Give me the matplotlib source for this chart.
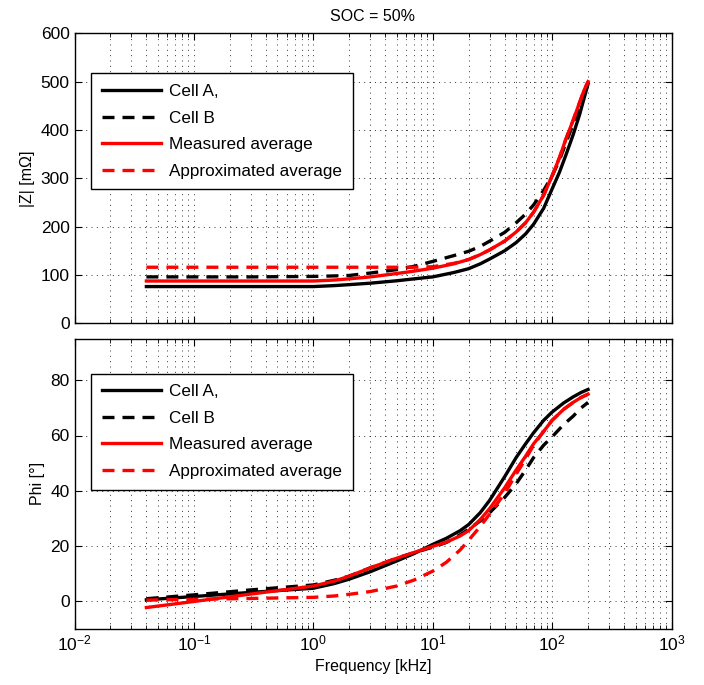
import numpy as np
import matplotlib
matplotlib.use('Agg')
import matplotlib.pyplot as plt

plt.rcParams['font.family'] = ['Liberation Sans', 'DejaVu Sans']
plt.rcParams['mathtext.default'] = 'regular'

# Frequency points [kHz]
freq_z = [0.04, 0.1, 0.3, 1, 1.5, 2, 3, 5, 7, 10, 15, 20, 25, 30, 40, 50, 60, 70, 85,
          100, 115, 130, 150, 170, 185, 200]
freq_phi = [0.04, 0.1, 0.3, 1, 1.5, 2, 3, 5, 7, 10, 13, 17, 20, 25, 30, 40, 50, 60, 70,
            85, 100, 125, 150, 175, 200]

# |Z| [mOhm]
z_cell_a = [76, 76, 76, 76, 78, 80, 83, 88, 92, 96, 105, 113, 123, 133, 150, 167, 185, 205,
            238, 278, 312, 347, 390, 432, 465, 495]
z_cell_b = [96, 96, 96, 97, 98, 99, 104, 111, 118, 128, 140, 149, 159, 170, 188, 208, 226,
            245, 275, 305, 337, 372, 412, 448, 475, 497]
z_meas = [87.5, 87.5, 87.5, 87.5, 89.5, 92, 96, 103, 108, 114, 123, 132, 142, 152, 170, 189,
          208, 230, 265, 305, 342, 380, 420, 457, 482, 500]
z_approx = [116, 116, 116, 116, 116, 116, 116, 116, 116, 117, 124, 132, 142, 152, 170, 189,
            208, 230, 265, 305, 342, 380, 420, 457, 482, 500]

# Phase [deg]
phi_cell_a = [0.4, 1.6, 3.1, 4.6, 6.3, 7.9, 10.6, 14.5, 17.2, 20.5, 22.7, 25.5, 27.7, 32,
              36.5, 45, 52, 57, 61, 65.5, 68.5, 71.8, 74, 75.6, 76.7]
phi_cell_b = [0.8, 2.2, 4, 5.8, 7.5, 9, 12, 15.5, 17.5, 19.5, 21.2, 24, 26, 29, 32, 37.5,
              42.5, 47.5, 52, 56.5, 59.5, 64, 67, 70, 72]
phi_meas = [-2.4, -0.2, 2.5, 5.4, 7.2, 9, 12, 15.5, 17.6, 19.8, 21.3, 23.6, 25.5, 29.5,
            33.5, 41, 47.5, 52.5, 57, 61.5, 65.5, 69.5, 72, 73.8, 75]
phi_approx = [0.3, 0.6, 0.9, 1.3, 1.8, 2.4, 3.4, 5.4, 7.6, 10.8, 14, 18.5, 22, 27, 31.5, 39,
              46, 51.5, 56.5, 61.5, 65.5, 69.5, 72, 73.8, 75]

labels = ['Cell A,', 'Cell B', 'Measured average', 'Approximated average']

fig = plt.figure(figsize=(7.04, 6.85), dpi=100)
W, H = 704.0, 685.0
left, right = 74.5, 671.5
ax1 = fig.add_axes([left / W, 1 - 323.3 / H, (right - left) / W, 290 / H])
ax2 = fig.add_axes([left / W, 1 - 628.5 / H, (right - left) / W, 289.5 / H])

dash = (0, (3.6, 2.4))
grid_style = dict(ls=(0, (1, 4.5)), color='0.2', lw=0.7)


def draw(ax, f, a, b, m, ap):
    ax.semilogx(f, a, color='k', lw=2.4, ls='-', label=labels[0])
    ax.semilogx(f, b, color='k', lw=2.4, ls=dash, label=labels[1])
    ax.semilogx(f, m, color='red', lw=2.4, ls='-', label=labels[2])
    ax.semilogx(f, ap, color='red', lw=2.4, ls=dash, label=labels[3])
    ax.set_xlim(1e-2, 1e3)
    ax.grid(True, which='major', axis='both', **grid_style)
    ax.grid(True, which='minor', axis='x', **grid_style)
    ax.tick_params(which='both', direction='in', top=True, right=True, labelsize=12.5)
    ax.tick_params(which='major', length=5)
    ax.tick_params(which='minor', length=3)
    for s in ax.spines.values():
        s.set_linewidth(1.0)


draw(ax1, freq_z, z_cell_a, z_cell_b, z_meas, z_approx)
ax1.set_ylim(0, 600)
ax1.set_yticks([0, 100, 200, 300, 400, 500, 600])
ax1.tick_params(labelbottom=False)
ax1.set_ylabel('|Z| [mΩ]', fontsize=11.5)
ax1.set_title('SOC = 50%', fontsize=11.5, pad=9)

draw(ax2, freq_phi, phi_cell_a, phi_cell_b, phi_meas, phi_approx)
ax2.set_ylim(-10, 95)
ax2.set_yticks([0, 20, 40, 60, 80])
ax2.set_ylabel('Phi [°]', fontsize=11.5)
ax2.set_xlabel('Frequency [kHz]', fontsize=11.5)

for ax, top in [(ax1, 73.3), (ax2, 373.5)]:
    leg = ax.legend(loc='upper left', bbox_to_anchor=(91 / W, 1 - top / H),
                    bbox_transform=fig.transFigure, borderaxespad=0, fontsize=12.3,
                    handlelength=3.5, handletextpad=0.45, labelspacing=0.68,
                    borderpad=0.62, fancybox=False, framealpha=1, edgecolor='k')
    leg.get_frame().set_linewidth(1.0)

fig.savefig('out.png', dpi=100)
